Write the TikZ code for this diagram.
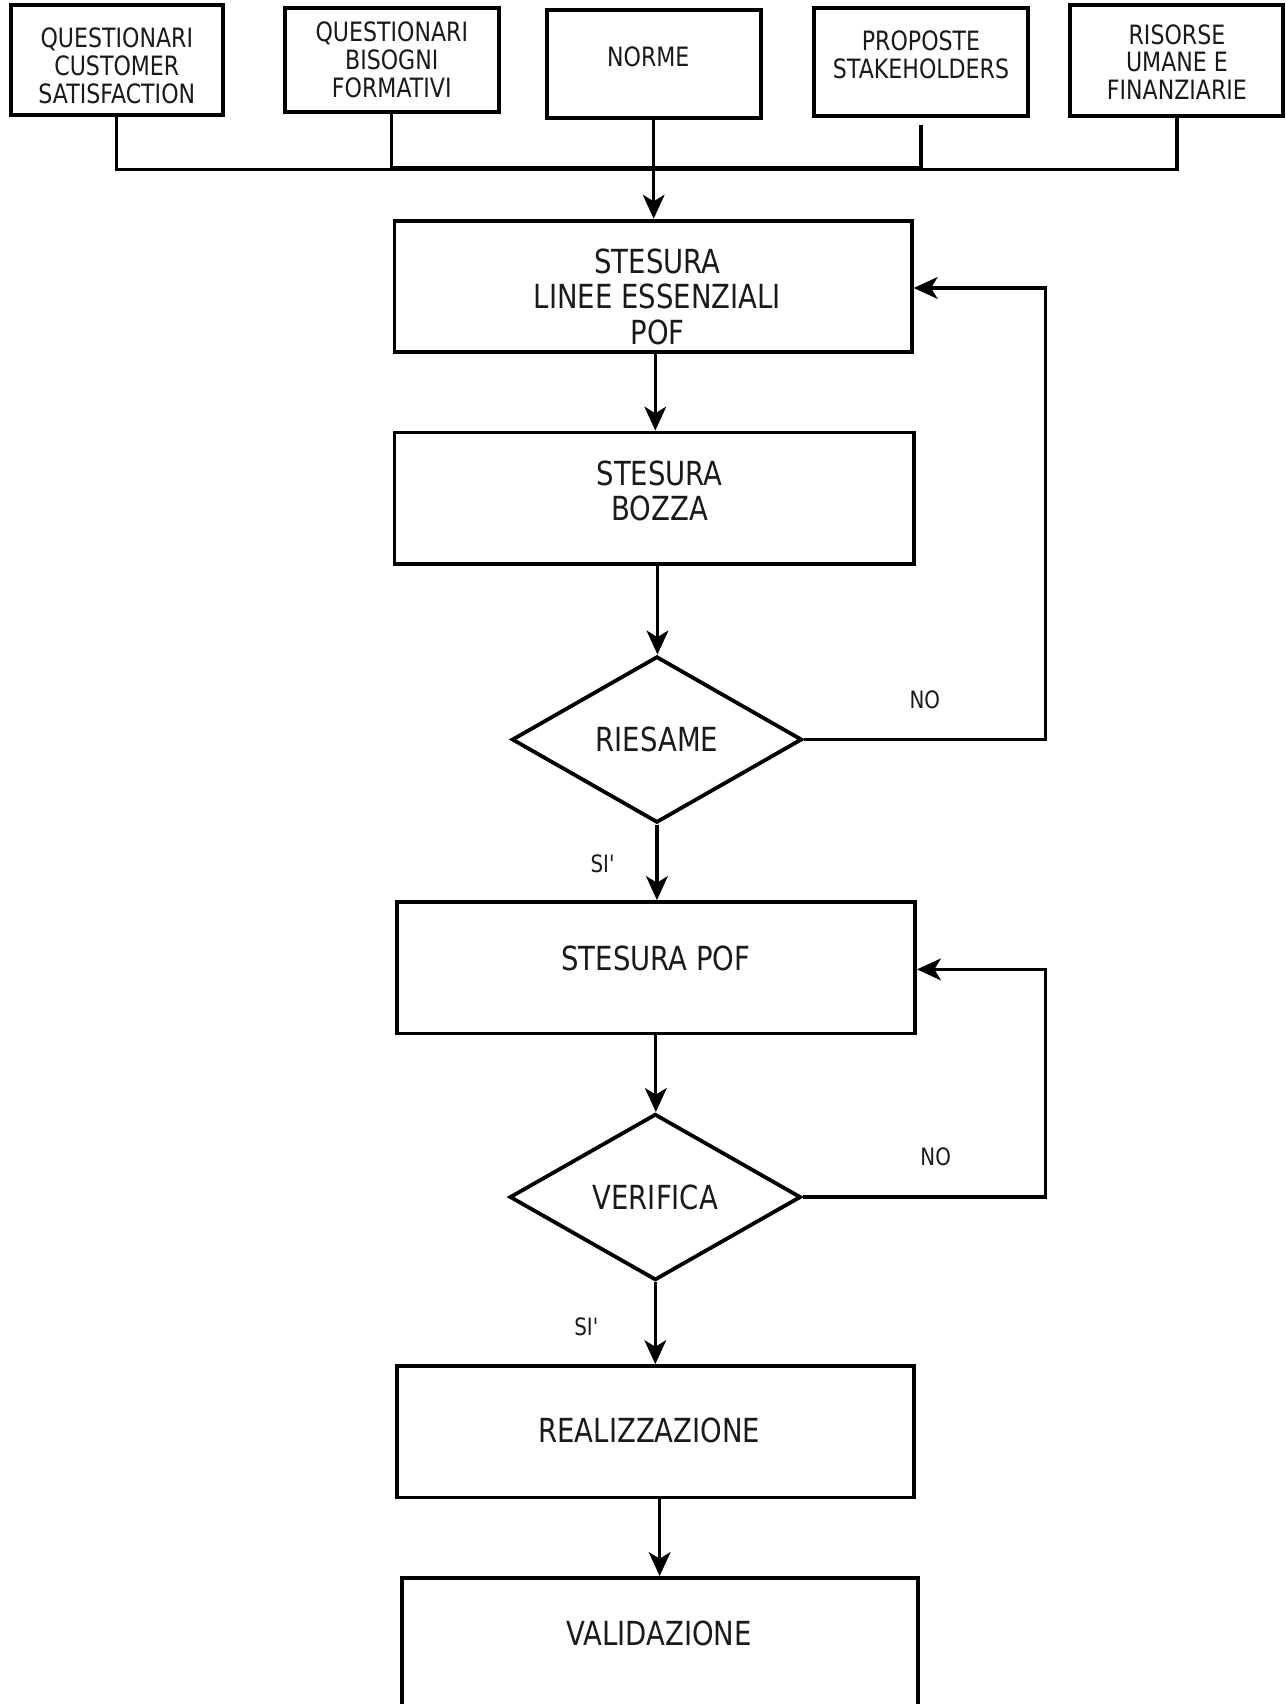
\documentclass[tikz,border=0pt]{standalone}
\usepackage{fontspec}
\setmainfont{DejaVu Sans}[FakeStretch=0.83]
\usetikzlibrary{arrows.meta,shapes.geometric,calc}
\definecolor{ink}{HTML}{1A1A1A}
\begin{document}
\begin{tikzpicture}[x=1pt,y=-1pt,
  box/.style={draw=black, line width=3.5pt, fill=white, inner sep=0pt},
  topbox/.style={box, line width=3.7pt},
  dbox/.style={box, shape=diamond, font=\fontsize{30.5}{32}\selectfont, text=ink},
  ttxt/.style={font=\fontsize{24.5}{25.5}\selectfont, text=ink, align=center},
  mtxt/.style={font=\fontsize{30.5}{32.5}\selectfont, text=ink, align=center},
  stxt/.style={font=\fontsize{22}{24}\selectfont, text=ink},
  line/.style={line width=3pt, draw=black},
  arrow/.style={line, -{Stealth[length=22pt,width=20pt,inset=6pt]}},
]
\fill[white] (0,0) rectangle (1183,1568);
\useasboundingbox (0,0) rectangle (1183,1568);
\begin{scope}
\clip (0,0) rectangle (1183,1568);
% top boxes
\node[topbox, minimum width=195pt, minimum height=101pt,
  label={[ttxt,yshift=-5pt]center:QUESTIONARI\\CUSTOMER\\SATISFACTION}] (b1) at (107.5,55.5) {};
\node[topbox, minimum width=197pt, minimum height=96pt,
  label={[ttxt]center:QUESTIONARI\\BISOGNI\\FORMATIVI}] (b2) at (360.5,55) {};
\node[topbox, minimum width=197pt, minimum height=100pt,
  label={[ttxt,yshift=7pt,xshift=-5pt]center:NORME}] (b3) at (601.5,59) {};
\node[topbox, minimum width=197pt, minimum height=100pt,
  label={[ttxt,yshift=6.5pt]center:PROPOSTE\\STAKEHOLDERS}] (b4) at (847.5,57) {};
\node[topbox, minimum width=196pt, minimum height=102pt,
  label={[ttxt,yshift=-1pt]center:RISORSE\\UMANE E\\FINANZIARIE}] (b5) at (1083,56) {};

% main boxes
\node[box, minimum width=476pt, minimum height=121pt,
  label={[mtxt,yshift=-9.5pt,xshift=4pt]center:STESURA\\LINEE ESSENZIALI\\POF}] (s1) at (601,263.5) {};
\node[box, minimum width=478pt, minimum height=121pt,
  label={[mtxt,yshift=6.5pt,xshift=5pt]center:STESURA\\BOZZA}] (s2) at (602,458.5) {};
\node[dbox, minimum width=267pt, minimum height=153pt] (d1) at (604.5,680.5) {RIESAME};
\node[box, minimum width=477pt, minimum height=121pt,
  label={[mtxt,yshift=8.5pt]center:STESURA POF}] (s3) at (603.5,890.5) {};
\node[dbox, minimum width=268pt, minimum height=153pt] (d2) at (603,1101.5) {VERIFICA};
\node[box, minimum width=476pt, minimum height=121pt,
  label={[mtxt,yshift=1.5pt,xshift=-5.5pt]center:REALIZZAZIONE}] (s4) at (603,1317.5) {};
\node[box, minimum width=475pt, minimum height=188pt,
  label={[mtxt,yshift=43pt,xshift=-1pt]center:VALIDAZIONE}] (s5) at (607.5,1546) {};

% top connectors
\coordinate (bus) at (0,156);
\coordinate (bus2) at (0,154);
\draw[line] (b1.south) |- (b5.south |- bus) -- (b5.south);
\draw[line] (b2.south) |- (b4.south |- bus2);
\draw[line] ([yshift=-6pt]b4.south) -- (b4.south |- bus);
\draw[arrow] (b3.south) -- (b3.south |- s1.north);

% main flow
\draw[arrow] ([xshift=2pt]s1.south) -- ([xshift=2pt]s1.south |- s2.north);
\draw[arrow] ([xshift=3pt]s2.south) -- ([xshift=3pt]s2.south |- d1.north);
\draw[arrow] (d1.south) -- (d1.south |- s3.north);
\draw[arrow] (s3.south) -- (s3.south |- d2.north);
\draw[arrow] (d2.south) -- (d2.south |- s4.north);
\draw[arrow] ([xshift=4pt]s4.south) -- ([xshift=4pt]s4.south |- s5.north);

% loops
\coordinate (r1) at (962,265);
\coordinate (r2) at (962,892);
\draw[arrow] (d1.east) -| (r1) -- (r1 -| s1.east);
\draw[arrow] (d2.east) -| (r2) -- (r2 -| s3.east);

% labels
\node[stxt] (no1) at (851,644) {NO};
\node[stxt] (no2) at (861,1064) {NO};
\node[stxt] (si1) at (555,795) {SI\textquotesingle};
\node[stxt] (si2) at (540,1221) {SI\textquotesingle};
\end{scope}
\end{tikzpicture}
\end{document}
